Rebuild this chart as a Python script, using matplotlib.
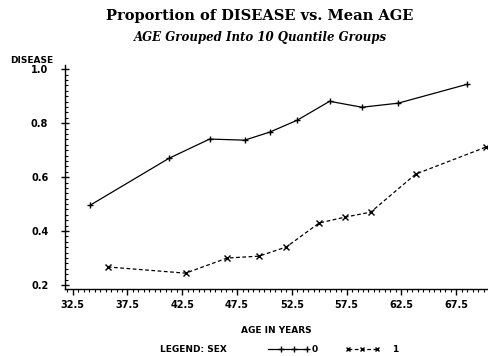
import matplotlib
matplotlib.use("Agg")
import matplotlib.pyplot as plt
from matplotlib.ticker import MultipleLocator, FixedLocator

age0 = [34.1, 41.3, 45.0, 48.2, 50.5, 53.0, 55.95, 58.9, 62.2, 68.5]
dis0 = [0.496, 0.670, 0.741, 0.737, 0.767, 0.811, 0.881, 0.859, 0.874, 0.944]
age1 = [35.7, 42.8, 46.6, 49.5, 52.0, 55.0, 57.4, 59.7, 63.8, 70.2]
dis1 = [0.267, 0.244, 0.300, 0.307, 0.341, 0.430, 0.452, 0.470, 0.611, 0.711]
xticks = [32.5, 37.5, 42.5, 47.5, 52.5, 57.5, 62.5, 67.5]
yticks = [0.2, 0.4, 0.6, 0.8, 1.0]

fig = plt.figure(figsize=(4.89, 3.56), dpi=100)
ax = fig.add_axes([0.133, 0.188, 0.867, 0.629])
ax.plot(age0, dis0, color="black", lw=0.9, marker="+", ms=5, mew=1.0, clip_on=False)
ax.plot(age1, dis1, color="black", lw=0.9, ls=(0, (3, 2)), marker="x", ms=4, mew=1.0, clip_on=False)
ax.set_xlim(31.8, 70.5)
ax.set_ylim(0.185, 1.015)
for s in ["top", "right"]:
    ax.spines[s].set_visible(False)
for s in ["left", "bottom"]:
    ax.spines[s].set_linewidth(1.0)
ax.xaxis.set_major_locator(FixedLocator(xticks))
ax.xaxis.set_minor_locator(MultipleLocator(0.5))
ax.yaxis.set_major_locator(FixedLocator(yticks))
ax.yaxis.set_minor_locator(MultipleLocator(0.02))
ax.set_xticklabels([f"{v:.1f}" for v in xticks])
ax.set_yticklabels([f"{v:.1f}" for v in yticks])
ax.tick_params(axis="x", which="major", direction="out", length=4, width=1, labelsize=7, pad=4)
ax.tick_params(axis="x", which="minor", direction="out", length=2, width=0.8)
ax.tick_params(axis="y", which="major", direction="inout", length=6, width=1, labelsize=7, pad=9)
ax.tick_params(axis="y", which="minor", direction="in", length=2, width=0.8)
for lab in ax.get_xticklabels() + ax.get_yticklabels():
    lab.set_fontweight("bold")

fig.text(0.532, 0.955, "Proportion of DISEASE vs. Mean AGE", ha="center", va="center",
         family="DejaVu Serif", fontweight="bold", fontsize=10.5)
fig.text(0.532, 0.895, "AGE Grouped Into 10 Quantile Groups", ha="center", va="center",
         family="DejaVu Serif", fontweight="bold", style="italic", fontsize=8.5)
fig.text(0.02, 0.83, "DISEASE", ha="left", va="center", fontsize=6.5, fontweight="bold")
fig.text(0.565, 0.073, "AGE IN YEARS", ha="center", va="center", fontsize=6.5, fontweight="bold")
fig.text(0.327, 0.017, "LEGEND: SEX", ha="left", va="center", fontsize=6.5, fontweight="bold")
fig.text(0.637, 0.017, "0", ha="left", va="center", fontsize=6.5, fontweight="bold")
fig.text(0.801, 0.017, "1", ha="left", va="center", fontsize=6.5, fontweight="bold")
fig.lines.append(plt.Line2D([0.548, 0.575, 0.601, 0.628], [0.02, 0.02, 0.02, 0.02],
                            transform=fig.transFigure, color="black", lw=0.9,
                            marker="+", ms=4, markevery=[1, 2, 3], figure=fig))
fig.lines.append(plt.Line2D([0.712, 0.741, 0.771], [0.02, 0.02, 0.02], transform=fig.transFigure,
                            color="black", lw=0.9, ls=(0, (3, 2)), marker="x", ms=3.5,
                            figure=fig))
fig.savefig("out.png", dpi=100)
